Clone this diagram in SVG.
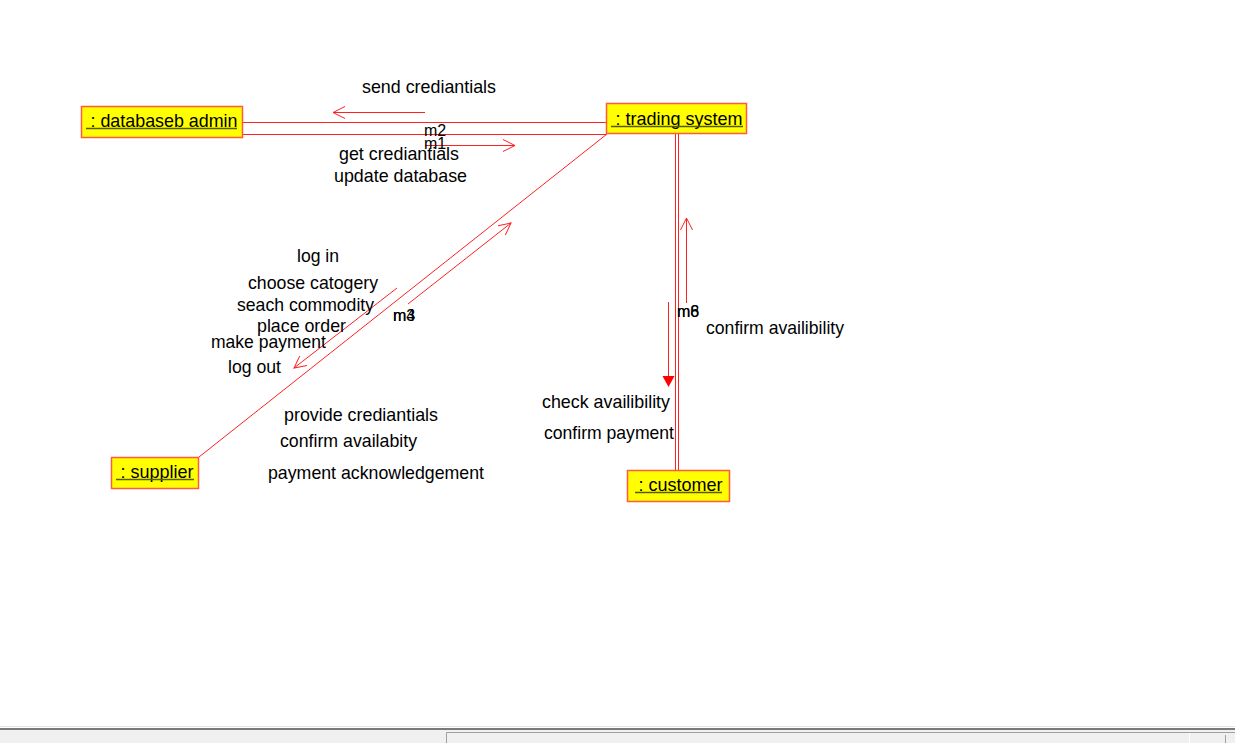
<svg xmlns="http://www.w3.org/2000/svg" width="1235" height="743" viewBox="0 0 1235 743">
<style>
.node rect{fill:#ffff00;stroke:#ff5a3c;stroke-width:1.5}
.node line{stroke:#5a5a00;stroke-width:1.6}
text{font-family:"Liberation Sans",Arial,sans-serif;font-size:17.7px;fill:#000}
.ml{font-size:16px}
.link{stroke:#ff2020;stroke-width:1;fill:none}
.msg{stroke:#ff2020;stroke-width:1;fill:none;marker-end:url(#open)}
</style>
<defs>
<marker id="open" viewBox="0 0 14 14" refX="12" refY="7" markerWidth="14" markerHeight="14" markerUnits="userSpaceOnUse" orient="auto">
<path d="M0,1 L12,7 L0,13" fill="none" stroke="#ff2020" stroke-width="1"/>
</marker>
</defs>
<rect x="0" y="0" width="1235" height="743" fill="#ffffff"/>

<g id="connectors">
<line class="link" x1="243" y1="122.5" x2="606" y2="122.5"/>
<line class="link" x1="243" y1="134.5" x2="606" y2="134.5"/>
<line class="link" x1="607" y1="134" x2="199" y2="457"/>
<line class="link" x1="675.5" y1="134" x2="675.5" y2="470"/>
<line class="link" x1="678.5" y1="134" x2="678.5" y2="470"/>
<line class="msg" x1="425" y1="112.5" x2="333" y2="112.5"/>
<line class="msg" x1="425" y1="145.5" x2="515" y2="145.5"/>
<line class="msg" x1="408" y1="304" x2="511" y2="223"/>
<line class="msg" x1="397" y1="288" x2="294" y2="368"/>
<line class="msg" x1="686.5" y1="303" x2="686.5" y2="218"/>
<line class="link" x1="668.5" y1="302" x2="668.5" y2="377"/>
<polygon points="662.5,376 674.5,376 668.5,387" fill="#ff0000"/>
<text class="ml" x="424" y="136">m2</text>
<text class="ml" x="424" y="149">m1</text>
<text class="ml" x="393" y="321">m3</text>
<text class="ml" x="393" y="321">m4</text>
<text class="ml" x="677" y="317">m6</text>
<text class="ml" x="677" y="317">m8</text>
<text x="362" y="93" textLength="134" lengthAdjust="spacingAndGlyphs">send crediantials</text>
<text x="339" y="160" textLength="120" lengthAdjust="spacingAndGlyphs">get crediantials</text>
<text x="334" y="182" textLength="133" lengthAdjust="spacingAndGlyphs">update database</text>
<text x="297" y="262" textLength="42" lengthAdjust="spacingAndGlyphs">log in</text>
<text x="248" y="289" textLength="130" lengthAdjust="spacingAndGlyphs">choose catogery</text>
<text x="237" y="311" textLength="137" lengthAdjust="spacingAndGlyphs">seach commodity</text>
<text x="257" y="332" textLength="89" lengthAdjust="spacingAndGlyphs">place order</text>
<text x="211" y="348" textLength="115" lengthAdjust="spacingAndGlyphs">make payment</text>
<text x="228" y="373" textLength="53" lengthAdjust="spacingAndGlyphs">log out</text>
<text x="284" y="421" textLength="154" lengthAdjust="spacingAndGlyphs">provide crediantials</text>
<text x="280" y="447" textLength="137" lengthAdjust="spacingAndGlyphs">confirm availabity</text>
<text x="268" y="479" textLength="216" lengthAdjust="spacingAndGlyphs">payment acknowledgement</text>
<text x="542" y="408" textLength="128" lengthAdjust="spacingAndGlyphs">check availibility</text>
<text x="544" y="439" textLength="130" lengthAdjust="spacingAndGlyphs">confirm payment</text>
<text x="706" y="334" textLength="138" lengthAdjust="spacingAndGlyphs">confirm availibility</text>
</g>

<g id="node-database-admin" class="node">
<rect x="81.5" y="106.5" width="161" height="31"/>
<text x="90.5" y="127" textLength="147" lengthAdjust="spacingAndGlyphs">: databaseb admin</text>
<line x1="86" y1="128.5" x2="237" y2="128.5"/>
</g>
<g id="node-trading-system" class="node">
<rect x="606.5" y="103.5" width="140" height="30"/>
<text x="615.5" y="125" textLength="127" lengthAdjust="spacingAndGlyphs">: trading system</text>
<line x1="611" y1="126.5" x2="743" y2="126.5"/>
</g>
<g id="node-supplier" class="node">
<rect x="111.5" y="457.5" width="87" height="31"/>
<text x="120.5" y="478" textLength="73" lengthAdjust="spacingAndGlyphs">: supplier</text>
<line x1="116" y1="479.5" x2="194" y2="479.5"/>
</g>
<g id="node-customer" class="node">
<rect x="627.5" y="470.5" width="102" height="31"/>
<text x="638.5" y="491" textLength="84" lengthAdjust="spacingAndGlyphs">: customer</text>
<line x1="635" y1="492.5" x2="722" y2="492.5"/>
</g>

<g id="statusbar">
<rect x="0" y="729" width="1235" height="14" fill="#f0f0f0"/>
<line x1="0" y1="726.5" x2="1235" y2="726.5" stroke="#e4e4e4"/>
<line x1="0" y1="729" x2="1235" y2="729" stroke="#7a7a7a" stroke-width="2"/>
<polyline points="446.5,743 446.5,732.5 1235,732.5" fill="none" stroke="#a0a0a0"/>
<line x1="1189.5" y1="733" x2="1189.5" y2="743" stroke="#ffffff"/>
<line x1="1225.5" y1="735" x2="1225.5" y2="743" stroke="#a0a0a0"/>
</g>
</svg>
